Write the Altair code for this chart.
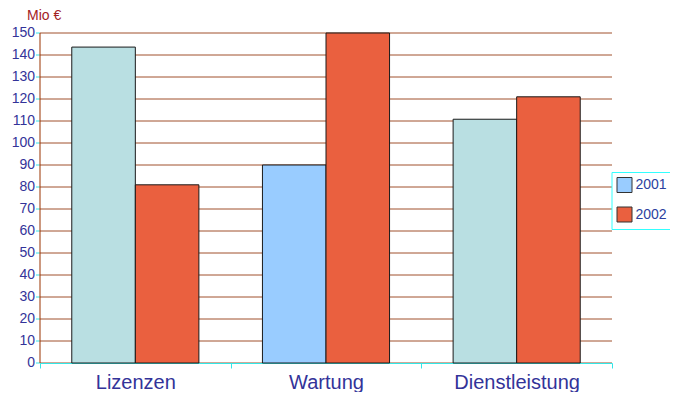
import altair as alt
import pandas as pd

categories = ["Lizenzen", "Wartung", "Dienstleistung"]
years = ["2001", "2002"]
values_2001 = [143.6, 90, 110.8]
values_2002 = [81, 150, 121]
y_ticks = list(range(0, 151, 10))

rows = []
for c, v1, v2 in zip(categories, values_2001, values_2002):
    rows.append({"category": c, "year": "2001", "value": v1})
    rows.append({"category": c, "year": "2002", "value": v2})
df = pd.DataFrame(rows)

FONT = "Liberation Sans"
BLUE_TXT = "#333399"
CYAN = "#33E6E6"

color = alt.condition(
    "datum.year == '2001' && datum.category != 'Wartung'",
    alt.value("#B9DFE2"),
    alt.Color(
        "year:N",
        scale=alt.Scale(domain=years, range=["#99CCFF", "#EA603F"]),
        legend=alt.Legend(
            orient="none", legendX=571.5, legendY=139, title=None,
            strokeColor="#33FFFF", fillColor="white", padding=5,
            symbolType="square", symbolSize=225, symbolStrokeColor="#333333",
            symbolStrokeWidth=1, labelFontSize=14, labelColor="#2B3F9E",
            labelFont=FONT, rowPadding=9.5, labelOffset=3,
        ),
    ),
)

chart = alt.Chart(df).mark_bar(stroke="#1a1a1a", strokeWidth=1).encode(
    x=alt.X(
        "category:N", sort=categories,
        scale=alt.Scale(paddingInner=0, paddingOuter=0),
        axis=alt.Axis(
            title=None, tickBand="extent", labelFontSize=20, labelColor=BLUE_TXT,
            labelFont=FONT, labelPadding=4, tickColor=CYAN, tickSize=5,
            domainColor=CYAN, labelAngle=0, grid=False,
        ),
    ),
    xOffset=alt.XOffset("year:N", sort=years, scale=alt.Scale(paddingOuter=0.5, paddingInner=0)),
    y=alt.Y(
        "value:Q",
        scale=alt.Scale(domain=[0, 150], nice=False),
        axis=alt.Axis(
            values=y_ticks, title="Mio €", titleAngle=0, titleAlign="left",
            titleBaseline="alphabetic", titleX=-13, titleY=-13,
            titleColor="#A3231F", titleFontSize=14, titleFontWeight="normal",
            titleFont=FONT, labelFont=FONT, labelFontSize=14, labelColor=BLUE_TXT,
            labelPadding=1, tickSize=4, tickColor=CYAN, domainColor="#993300",
            gridColor="#A0502D", gridWidth=1, translate=0,
        ),
    ),
    color=color,
).properties(
    width=572, height=330,
    autosize=alt.AutoSizeParams(type="none"),
    padding={"left": 32, "top": 25, "right": 58, "bottom": 29},
).configure_view(stroke=None)

chart.save("out.html", embed_options={"renderer": "svg", "actions": False})
